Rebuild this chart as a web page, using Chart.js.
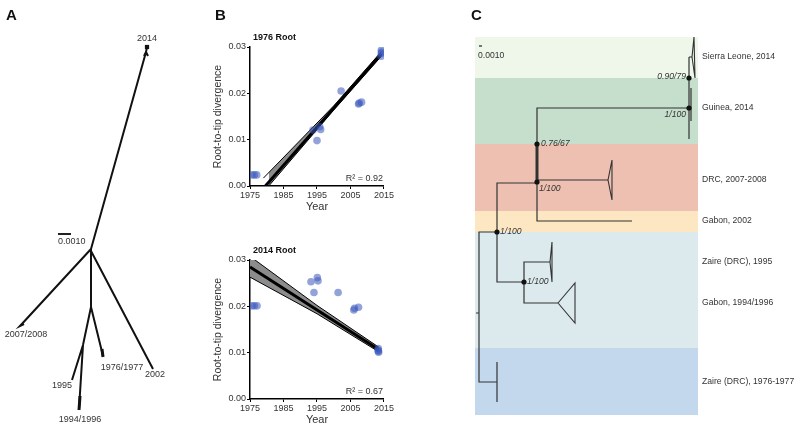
<!DOCTYPE html>
<html>
<head>
<meta charset="utf-8">
<script src="https://cdn.jsdelivr.net/npm/chart.js@4.4.1/dist/chart.umd.min.js"></script>
<style>
  body { margin: 0; background: #fff; width: 800px; height: 429px; overflow: hidden; position: relative; }
  canvas { position: absolute; }
  .panel { position: absolute; font: bold 15px 'Liberation Sans', Arial, sans-serif; color: #111; }
</style>
</head>
<body>
<canvas id="trees" width="800" height="429" style="left:0;top:0"></canvas>
<canvas id="rootTop" width="195" height="185" style="left:200px;top:30px"></canvas>
<canvas id="rootBottom" width="195" height="185" style="left:200px;top:243px"></canvas>
<div class="panel" style="left:6px;top:6px">A</div>
<div class="panel" style="left:215px;top:6px">B</div>
<div class="panel" style="left:471px;top:6px">C</div>
<script>
const SANS = "'Liberation Sans', Arial, sans-serif";

// ---- Panel B : root-to-tip divergence vs year ----
const years1976 = [1975.6, 1976.3, 1977.0, 1993.8, 1995.0, 1995.8, 1996.1, 2002.2, 2007.4, 2007.6, 2008.3, 2014.1, 2014.2, 2014.2, 2014.3];
const div1976   = [0.0024, 0.0024, 0.0024, 0.0121, 0.0098, 0.0128, 0.0122, 0.0205, 0.0177, 0.0179, 0.0181, 0.0280, 0.0286, 0.0293, 0.0289];
const fit1976Years = [1979.6, 2014.2];
const fit1976      = [0.0, 0.0285];
const upper1976Years = [1979.0, 2000.0, 2014.2];
const upper1976      = [0.0017, 0.0173, 0.0290];
const lower1976Years = [1980.6, 2000.0, 2014.2];
const lower1976      = [0.0, 0.0164, 0.0280];

const years2014 = [1975.6, 1976.3, 1977.1, 1993.2, 1994.1, 1995.1, 1995.3, 2001.3, 2006.0, 2006.2, 2007.4, 2013.3, 2013.3, 2013.4, 2013.3];
const div2014   = [0.0201, 0.0201, 0.0201, 0.0253, 0.0230, 0.0262, 0.0255, 0.0230, 0.0192, 0.0196, 0.0198, 0.0109, 0.0105, 0.0101, 0.0103];
const fit2014Years = [1975.0, 2013.4];
const fit2014      = [0.0285, 0.0107];
const upper2014Years = [1975.0, 1995.0, 2013.4];
const upper2014      = [0.0308, 0.0202, 0.0112];
const lower2014Years = [1975.0, 1995.0, 2013.4];
const lower2014      = [0.0263, 0.0184, 0.0102];

const yearTicks = [1975, 1985, 1995, 2005, 2015];
const divTicks = [0.00, 0.01, 0.02, 0.03];

// ---- Panel A : unrooted tree (branch paths in figure units) ----
const treeABranches = [
  [[91, 249], [146, 52], [147, 47]],
  [[91, 249], [20, 326], [24, 324]],
  [[91, 249], [91, 307]],
  [[91, 251], [153, 369]],
  [[91, 307], [103, 356]],
  [[91, 307], [83, 345], [72, 380]],
  [[83, 345], [79, 409]],
  [[146, 52], [144, 56]],
  [[146, 52], [148, 56]]
];
const treeAThickTips = [[[80, 396], [79, 410]], [[102, 349], [103, 357]]];
const treeARootTip = [[147, 47]];
const treeATipLabels = ['2014', '2007/2008', '1995', '1976/1977', '2002', '1994/1996'];
const treeATipAnchors = [[147, 39], [26, 335], [62, 386], [122, 368], [155, 375], [80, 420]];
const scaleBarA = [[58, 234], [71, 234]];

// ---- Panel C : rooted tree with clade bands ----
const cladeNames = ['Sierra Leone, 2014', 'Guinea, 2014', 'DRC, 2007-2008', 'Gabon, 2002',
                    'Zaire (DRC), 1995', 'Gabon, 1994/1996', 'Zaire (DRC), 1976-1977'];
const cladeTipY = [57, 108, 180, 221, 262, 303, 382];
const bandEdges = [37, 78, 144, 211, 232, 348, 415];
const bandColors = ['#eff6ea', '#c6dfcd', '#edc0b1', '#fde7c2', '#dceaee', '#c3d8ec'];
const bandXRange = [475, 698];

const treeCBranches = [
  [[476, 313], [479, 313]],
  [[497, 232], [479, 232], [479, 382], [497, 382]],
  [[497, 362], [497, 402]],
  [[537, 183], [497, 183], [497, 282], [524, 282]],
  [[550, 262], [524, 262], [524, 303], [558, 303]],
  [[689, 108], [537, 108], [537, 221], [632, 221]],
  [[537, 180], [608, 180]],
  [[689, 57], [689, 139]],
  [[691, 88], [691, 121]],
  [[689, 57], [692, 57]]
];
const treeCCollapsed = [
  [[550, 262], [552, 242], [552, 282], [550, 262]],
  [[558, 303], [575, 283], [575, 323], [558, 303]],
  [[608, 180], [612, 160], [612, 200], [608, 180]],
  [[692, 57], [694, 37], [695, 78], [692, 57]]
];
const treeCThick = [[[537, 144], [537, 182]]];
const treeCNodes = [[497, 232], [524, 282], [537, 144], [537, 182], [689, 78], [689, 108]];
const treeCSupport = ['1/100', '1/100', '0.76/67', '1/100', '0.90/79', '1/100'];
const scaleBarC = [[479, 46], [482, 46]];

// chemins -> points avec coupures (y null)
function pathsToData(paths) {
  const out = [];
  paths.forEach(p => {
    p.forEach(([x, y]) => out.push({ x, y }));
    out.push({ x: p[p.length - 1][0], y: null });
  });
  return out;
}
function xy(xs, ys) { return xs.map((x, i) => ({ x, y: ys[i] })); }

function lineSet(paths, color, width) {
  return { data: pathsToData(paths), showLine: true, borderColor: color, borderWidth: width,
           pointRadius: 0, spanGaps: false, fill: false };
}

// Bandes de couleur derriere l'arbre C
const cladeBands = {
  id: 'cladeBands',
  beforeDatasetsDraw(chart) {
    const { ctx, scales: { x, y } } = chart;
    ctx.save();
    const x0 = x.getPixelForValue(bandXRange[0]), x1 = x.getPixelForValue(bandXRange[1]);
    bandColors.forEach((c, i) => {
      const y0 = y.getPixelForValue(bandEdges[i]), y1 = y.getPixelForValue(bandEdges[i + 1]);
      ctx.fillStyle = c;
      ctx.fillRect(x0, y0, x1 - x0, y1 - y0);
    });
    ctx.restore();
  }
};

// Textes des arbres
const treeText = {
  id: 'treeText',
  afterDatasetsDraw(chart) {
    const { ctx, scales: { x, y } } = chart;
    ctx.save();
    ctx.fillStyle = '#333';
    ctx.textBaseline = 'middle';
    const put = (t, px, py, font, align) => {
      ctx.font = font; ctx.textAlign = align;
      ctx.fillText(t, x.getPixelForValue(px), y.getPixelForValue(py));
    };
    treeATipLabels.forEach((t, i) => put(t, treeATipAnchors[i][0], treeATipAnchors[i][1], '9px ' + SANS, 'center'));
    put('0.0010', scaleBarA[0][0], scaleBarA[0][1] + 8, '9px ' + SANS, 'left');
    cladeNames.forEach((t, i) => put(t, bandXRange[1] + 4, cladeTipY[i], '8.6px ' + SANS, 'left'));
    put('0.0010', scaleBarC[0][0] - 1, scaleBarC[0][1] + 10, '8.6px ' + SANS, 'left');
    // supports : quatre a droite du noeud, deux a gauche
    const it = 'italic 8.6px ' + SANS;
    put(treeCSupport[0], treeCNodes[0][0] + 3, treeCNodes[0][1], it, 'left');
    put(treeCSupport[1], treeCNodes[1][0] + 3, treeCNodes[1][1], it, 'left');
    put(treeCSupport[2], treeCNodes[2][0] + 4, treeCNodes[2][1], it, 'left');
    put(treeCSupport[3], treeCNodes[3][0] + 2, treeCNodes[3][1] + 7, it, 'left');
    put(treeCSupport[4], treeCNodes[4][0] - 3, treeCNodes[4][1] - 1, it, 'right');
    put(treeCSupport[5], treeCNodes[5][0] - 3, treeCNodes[5][1] + 7, it, 'right');
    ctx.restore();
  }
};

new Chart(document.getElementById('trees'), {
  type: 'scatter',
  data: {
    datasets: [
      { data: xy(treeCNodes.map(n => n[0]), treeCNodes.map(n => n[1])), pointRadius: 2.6,
        backgroundColor: '#111', borderWidth: 0 },
      { data: xy(treeARootTip.map(n => n[0]), treeARootTip.map(n => n[1])), pointStyle: 'rect',
        pointRadius: 3, backgroundColor: '#111', borderWidth: 0 },
      lineSet(treeABranches, '#111', 2),
      lineSet(treeAThickTips, '#111', 3),
      lineSet([scaleBarA], '#222', 2),
      lineSet(treeCBranches, '#333', 1.2),
      lineSet(treeCCollapsed, '#333', 1.1),
      lineSet(treeCThick, '#333', 3),
      lineSet([scaleBarC], '#222', 1.2)
    ]
  },
  options: {
    responsive: false, animation: false, events: [],
    layout: { padding: 0, autoPadding: false },
    plugins: { legend: { display: false }, tooltip: { enabled: false } },
    scales: {
      x: { type: 'linear', display: false, min: 0, max: 800 },
      y: { type: 'linear', display: false, min: 0, max: 429, reverse: true }
    }
  },
  plugins: [cladeBands, treeText]
});

function rootChart(id, title, r2, pts, fit, upper, lower) {
  const axisGrid = { display: true, drawOnChartArea: false, drawTicks: true, tickLength: 3, color: '#000', lineWidth: 1 };
  const labels = {
    id: 'labels' + id,
    afterDraw(chart) {
      const { ctx, chartArea: a } = chart;
      ctx.save();
      ctx.fillStyle = '#111';
      ctx.textBaseline = 'middle';
      ctx.font = 'bold 9px ' + SANS;
      ctx.textAlign = 'left';
      ctx.fillText(title, a.left + 3, a.top - 9);
      ctx.font = '9px ' + SANS;
      ctx.fillStyle = '#333';
      ctx.textAlign = 'right';
      ctx.fillText(r2, a.right - 1, a.bottom - 7);
      ctx.restore();
    }
  };
  return new Chart(document.getElementById(id), {
    type: 'scatter',
    data: {
      datasets: [
        { data: pts, pointRadius: 3.8, backgroundColor: 'rgba(58, 88, 188, 0.55)', borderWidth: 0 },
        { data: fit, showLine: true, borderColor: '#000', borderWidth: 3, pointRadius: 0 },
        { data: upper, showLine: true, borderColor: '#000', borderWidth: 1, pointRadius: 0 },
        { data: lower, showLine: true, borderColor: '#000', borderWidth: 1, pointRadius: 0,
          fill: '-1', backgroundColor: '#8c8c8c' }
      ]
    },
    options: {
      responsive: false, animation: false, events: [],
      layout: { padding: { left: 0, right: 7, top: 17, bottom: 1 } },
      plugins: { legend: { display: false }, tooltip: { enabled: false } },
      scales: {
        x: {
          type: 'linear', min: 1975, max: 2015,
          afterBuildTicks: s => { s.ticks = yearTicks.map(v => ({ value: v })); },
          afterFit: s => { s.height = 28; },
          grid: axisGrid,
          border: { display: true, color: '#000', width: 1.5 },
          ticks: { callback: v => String(v), color: '#333', padding: 1, maxRotation: 0,
                   font: { family: SANS, size: 9 } },
          title: { display: true, text: 'Year', color: '#333', padding: { top: 0, bottom: 0 },
                   font: { family: SANS, size: 11 } }
        },
        y: {
          type: 'linear', min: 0, max: 0.03,
          afterBuildTicks: s => { s.ticks = divTicks.map(v => ({ value: v })); },
          afterFit: s => { s.width = 50; },
          grid: axisGrid,
          border: { display: true, color: '#000', width: 1.5 },
          ticks: { callback: v => v.toFixed(2), color: '#333', padding: 1,
                   font: { family: SANS, size: 9 } },
          title: { display: true, text: 'Root-to-tip divergence', color: '#333', padding: { top: 12, bottom: 0 },
                   font: { family: SANS, size: 10.5 } }
        }
      }
    },
    plugins: [labels]
  });
}

rootChart('rootTop', '1976 Root', 'R\u00b2 = 0.92', xy(years1976, div1976),
  xy(fit1976Years, fit1976), xy(upper1976Years, upper1976), xy(lower1976Years, lower1976));
rootChart('rootBottom', '2014 Root', 'R\u00b2 = 0.67', xy(years2014, div2014),
  xy(fit2014Years, fit2014), xy(upper2014Years, upper2014), xy(lower2014Years, lower2014));
</script>
</body>
</html>
